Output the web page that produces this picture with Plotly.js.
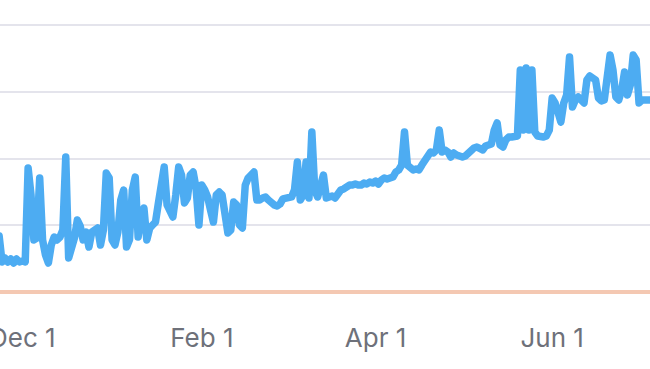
<!DOCTYPE html>
<html>
<head>
<meta charset="utf-8">
<script src="https://cdn.plot.ly/plotly-3.0.1.min.js"></script>
<style>
  html, body { margin: 0; padding: 0; background: #ffffff; }
  #chart { width: 650px; height: 369px; }
  .scatterlayer .js-line { stroke-linejoin: round !important; stroke-linecap: round !important; }
</style>
</head>
<body>
<div id="chart"></div>
<script>
// Daily series, first day of the series
const startDate = '2023-11-23';
const values = [
  41.9, 22.5, 25.5, 22.5, 24.7, 21.7, 24.7, 22.5, 23.2, 22.5,
  92.9, 72.7, 39.0, 40.4, 85.4, 39.0, 27.7, 21.7, 35.2, 41.2,
  39.0, 41.2, 46.4, 101.1, 25.5, 31.5, 40.4, 53.9, 49.4, 39.0,
  44.9, 33.7, 44.9, 46.4, 47.9, 35.2, 46.4, 89.1, 85.4, 39.0,
  35.2, 44.9, 68.9, 76.4, 33.7, 39.0, 76.4, 86.1, 41.2, 57.7,
  62.9, 39.0, 47.9, 50.2, 52.4, 66.7, 83.9, 93.6, 65.2, 61.4,
  56.2, 72.7, 93.6, 87.6, 66.7, 70.4, 87.6, 89.9, 77.9, 50.2,
  80.1, 76.4, 71.2, 61.4, 52.4, 72.7, 74.9, 72.7, 57.7, 44.2,
  46.4, 67.4, 65.2, 50.2, 47.9, 80.1, 85.4, 87.6, 89.9, 68.9,
  68.9, 70.4, 71.2, 68.9, 66.7, 65.2, 64.4, 65.9, 69.7, 70.4,
  69.7, 71.2, 76.4, 97.4, 68.9, 72.7, 97.4, 70.4, 119.9, 76.4,
  71.2, 80.1, 87.6, 70.4, 71.2, 71.9, 70.4, 74.2, 76.4, 77.2,
  79.4, 80.1, 80.1, 80.9, 80.1, 80.1, 81.6, 80.9, 82.4, 81.6,
  83.1, 80.9, 83.9, 85.4, 84.6, 85.4, 86.1, 89.9, 91.4, 95.1,
  119.9, 95.1, 92.9, 91.4, 92.1, 91.4, 95.1, 98.9, 102.6, 104.9,
  104.1, 106.4, 121.3, 104.9, 106.4, 104.9, 101.1, 104.1, 102.6, 101.1,
  101.1, 101.9, 104.1, 105.6, 107.9, 108.6, 107.9, 106.4, 109.4, 110.1,
  110.9, 121.3, 126.6, 110.1, 108.6, 113.9, 116.1, 116.1, 116.9, 116.9,
  166.3, 121.3, 167.8, 121.3, 166.3, 119.9, 116.9, 116.1, 116.1, 116.9,
  121.3, 145.3, 141.6, 134.8, 127.3, 141.6, 147.6, 176.0, 138.6, 143.8,
  146.1, 143.8, 141.6, 158.8, 161.8, 160.3, 158.8, 145.3, 143.1, 143.8,
  158.8, 177.5, 166.3, 146.1, 143.8, 151.3, 164.8, 147.6, 155.1, 177.5,
  173.8, 141.6, 143.8, 143.8, 143.8, 143.8
];
const tickDates = ['2023-12-01', '2024-02-01', '2024-04-01', '2024-06-01'];
const tickLabels = ['Dec 1', 'Feb 1', 'Apr 1', 'Jun 1'];
const gridValues = [50, 100, 150, 200];
const baselineValue = 0;

// build daily dates
const dates = [];
{
  const d0 = new Date(startDate + 'T00:00:00Z');
  for (let i = 0; i < values.length; i++) {
    const d = new Date(d0.getTime() + i * 86400000);
    dates.push(d.toISOString().slice(0, 10));
  }
}

const trace = {
  type: 'scatter',
  mode: 'lines',
  x: dates,
  y: values,
  line: { color: '#4dacf2', width: 7.5 },
  hoverinfo: 'skip'
};

const layout = {
  width: 650,
  height: 369,
  margin: { l: 0, r: 0, t: 0, b: 74, pad: 0 },
  paper_bgcolor: '#ffffff',
  plot_bgcolor: '#ffffff',
  showlegend: false,
  xaxis: {
    type: 'date',
    range: ['2023-11-23 07:00', '2024-07-04 19:00'],
    tickvals: tickDates,
    ticktext: tickLabels,
    ticklabeloverflow: 'allow',
    showgrid: false,
    zeroline: false,
    showline: false,
    ticks: 'outside',
    ticklen: 20,
    tickcolor: 'rgba(0,0,0,0)',
    tickfont: { family: 'Inter, sans-serif', size: 26, color: '#6e717a' }
  },
  yaxis: {
    range: [-2.247, 218.73],
    tickvals: gridValues,
    showticklabels: false,
    showgrid: true,
    gridcolor: '#e4e4ec',
    gridwidth: 2,
    zeroline: false,
    showline: false,
    ticks: ''
  },
  shapes: [{
    type: 'line',
    xref: 'paper', x0: 0, x1: 1,
    yref: 'y', y0: baselineValue, y1: baselineValue,
    line: { color: '#f4c8b2', width: 4 },
    layer: 'below'
  }]
};

Plotly.newPlot('chart', [trace], layout, { staticPlot: true, displayModeBar: false });
</script>
</body>
</html>
